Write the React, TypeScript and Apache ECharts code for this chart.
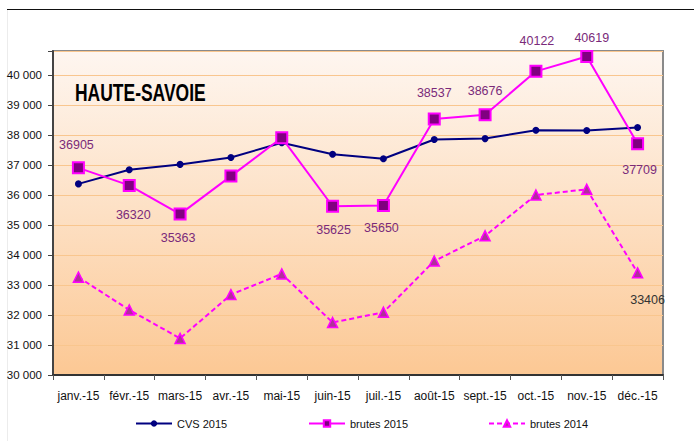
import React, { useEffect, useRef } from "react";
import * as echarts from "echarts";

const categories = [
  "janv.-15", "févr.-15", "mars-15", "avr.-15", "mai-15", "juin-15",
  "juil.-15", "août-15", "sept.-15", "oct.-15", "nov.-15", "déc.-15",
];
const cvs2015 = [36370, 36840, 37020, 37250, 37740, 37360, 37210, 37850, 37880, 38160, 38150, 38250];
const brutes2015 = [36905, 36320, 35363, 36630, 37910, 35625, 35650, 38537, 38676, 40122, 40619, 37709];
const brutes2014 = [33260, 32170, 31220, 32680, 33370, 31750, 32090, 33800, 34640, 36000, 36190, 33406];
// which brutes 2015 points carry a value label (index -> side)
const labelled2015: Record<number, "top" | "bottom"> = {
  0: "top", 1: "bottom", 2: "bottom", 5: "bottom", 6: "bottom",
  7: "top", 8: "top", 9: "top", 10: "top", 11: "bottom",
};
const labelOffsets2015: Record<number, [number, number]> = {
  0: [-2, -5], 1: [4, 12], 2: [-2, 6], 5: [1, 6], 6: [-2, 4],
  7: [0, -8], 8: [0, -6], 9: [1, -12], 10: [5, 0], 11: [2, 8],
};
const labelled2014: Record<number, "top" | "bottom"> = { 11: "bottom" };
const labelOffsets2014: Record<number, [number, number]> = { 11: [10, 10] };

const Y_MIN = 30000;
const Y_MAX = 40800;
const Y_STEP = 1000;

const FONT = "'Liberation Sans', Arial, sans-serif";

export default function App() {
  const ref = useRef<HTMLDivElement>(null);
  useEffect(() => {
    if (!ref.current) return;
    const chart = echarts.init(ref.current, undefined, { renderer: "svg" });

    const d2015 = brutes2015.map((v, i) => {
      const pos = labelled2015[i];
      return {
        value: v,
        label: pos
          ? { show: true, position: pos, offset: labelOffsets2015[i], color: "#7a2a7a" }
          : { show: false },
      };
    });
    const d2014 = brutes2014.map((v, i) => {
      const pos = labelled2014[i];
      return {
        value: v,
        label: pos
          ? { show: true, position: pos, offset: labelOffsets2014[i], color: "#333333" }
          : { show: false },
      };
    });

    const legendCommon = {
      top: 413,
      itemWidth: 36,
      itemHeight: 8,
      itemGap: 5,
      textStyle: { fontFamily: FONT, fontSize: 11, color: "#111" },
    };

    chart.setOption({
      animation: false,
      backgroundColor: "#ffffff",
      textStyle: { fontFamily: FONT },
      grid: {
        left: 53,
        top: 51,
        right: 31,
        bottom: 66,
        show: true,
        borderColor: "#8a8a8a",
        borderWidth: 2,
        backgroundColor: new echarts.graphic.LinearGradient(0, 0, 0, 1, [
          { offset: 0, color: "#fef6f0" },
          { offset: 0.5, color: "#fde0c4" },
          { offset: 1, color: "#fcc894" },
        ]),
      },
      legend: [
        { ...legendCommon, left: 130, data: ["CVS 2015"] },
        { ...legendCommon, left: 303, data: ["brutes 2015"] },
        { ...legendCommon, left: 483, data: ["brutes 2014"] },
      ],
      graphic: [
        {
          type: "line",
          shape: { x1: 7, y1: 9.5, x2: 694, y2: 9.5 },
          style: { stroke: "#111", lineWidth: 1 },
        },
        {
          type: "line",
          shape: { x1: 7.5, y1: 10, x2: 7.5, y2: 441 },
          style: { stroke: "#ececec", lineWidth: 1 },
        },
        {
          type: "text",
          x: 75,
          y: 82,
          scaleX: 0.76,
          style: {
            text: "HAUTE-SAVOIE",
            font: `bold 23px ${FONT}`,
            fill: "#000",
          },
        },
      ],
      xAxis: {
        type: "category",
        data: categories,
        boundaryGap: true,
        axisLine: { show: true, lineStyle: { color: "#333", width: 2 } },
        axisTick: { show: true, length: 5, lineStyle: { color: "#555" } },
        axisLabel: { fontFamily: FONT, fontSize: 12, color: "#111", margin: 15, interval: 0 },
        splitLine: { show: false },
      },
      yAxis: {
        type: "value",
        min: Y_MIN,
        max: Y_MAX,
        interval: Y_STEP,
        axisLine: { show: true, lineStyle: { color: "#444", width: 2 } },
        axisTick: { show: true, length: 5, lineStyle: { color: "#444" } },
        axisLabel: {
          fontFamily: FONT,
          fontSize: 11.5,
          color: "#111",
          margin: 11,
          formatter: (v: number) => (v % 1000 === 0 ? `${Math.round(v / 1000)} 000` : ""),
        },
        splitLine: { show: true, lineStyle: { color: "#f9c68e", width: 1 } },
      },
      series: [
        {
          name: "CVS 2015",
          type: "line",
          data: cvs2015,
          symbol: "circle",
          symbolSize: 7,
          lineStyle: { color: "#000080", width: 2 },
          itemStyle: { color: "#000080" },
          z: 3,
        },
        {
          name: "brutes 2015",
          type: "line",
          data: d2015,
          symbol: "rect",
          symbolSize: 11,
          lineStyle: { color: "#ff00ff", width: 2 },
          itemStyle: { color: "#800080", borderColor: "#ff00ff", borderWidth: 2 },
          label: { fontFamily: FONT, fontSize: 12.5 },
          z: 4,
        },
        {
          name: "brutes 2014",
          type: "line",
          data: d2014,
          symbol: "triangle",
          symbolSize: 10,
          lineStyle: { color: "#ff00ff", width: 2, type: [5, 3] },
          itemStyle: { color: "#b0309a", borderColor: "#ff00ff", borderWidth: 1.5 },
          label: { fontFamily: FONT, fontSize: 12.5 },
          z: 2,
        },
      ],
    });
    return () => chart.dispose();
  }, []);
  return (
    <div
      ref={ref}
      style={{ position: "absolute", left: 0, top: 0, width: 694, height: 441 }}
    />
  );
}
